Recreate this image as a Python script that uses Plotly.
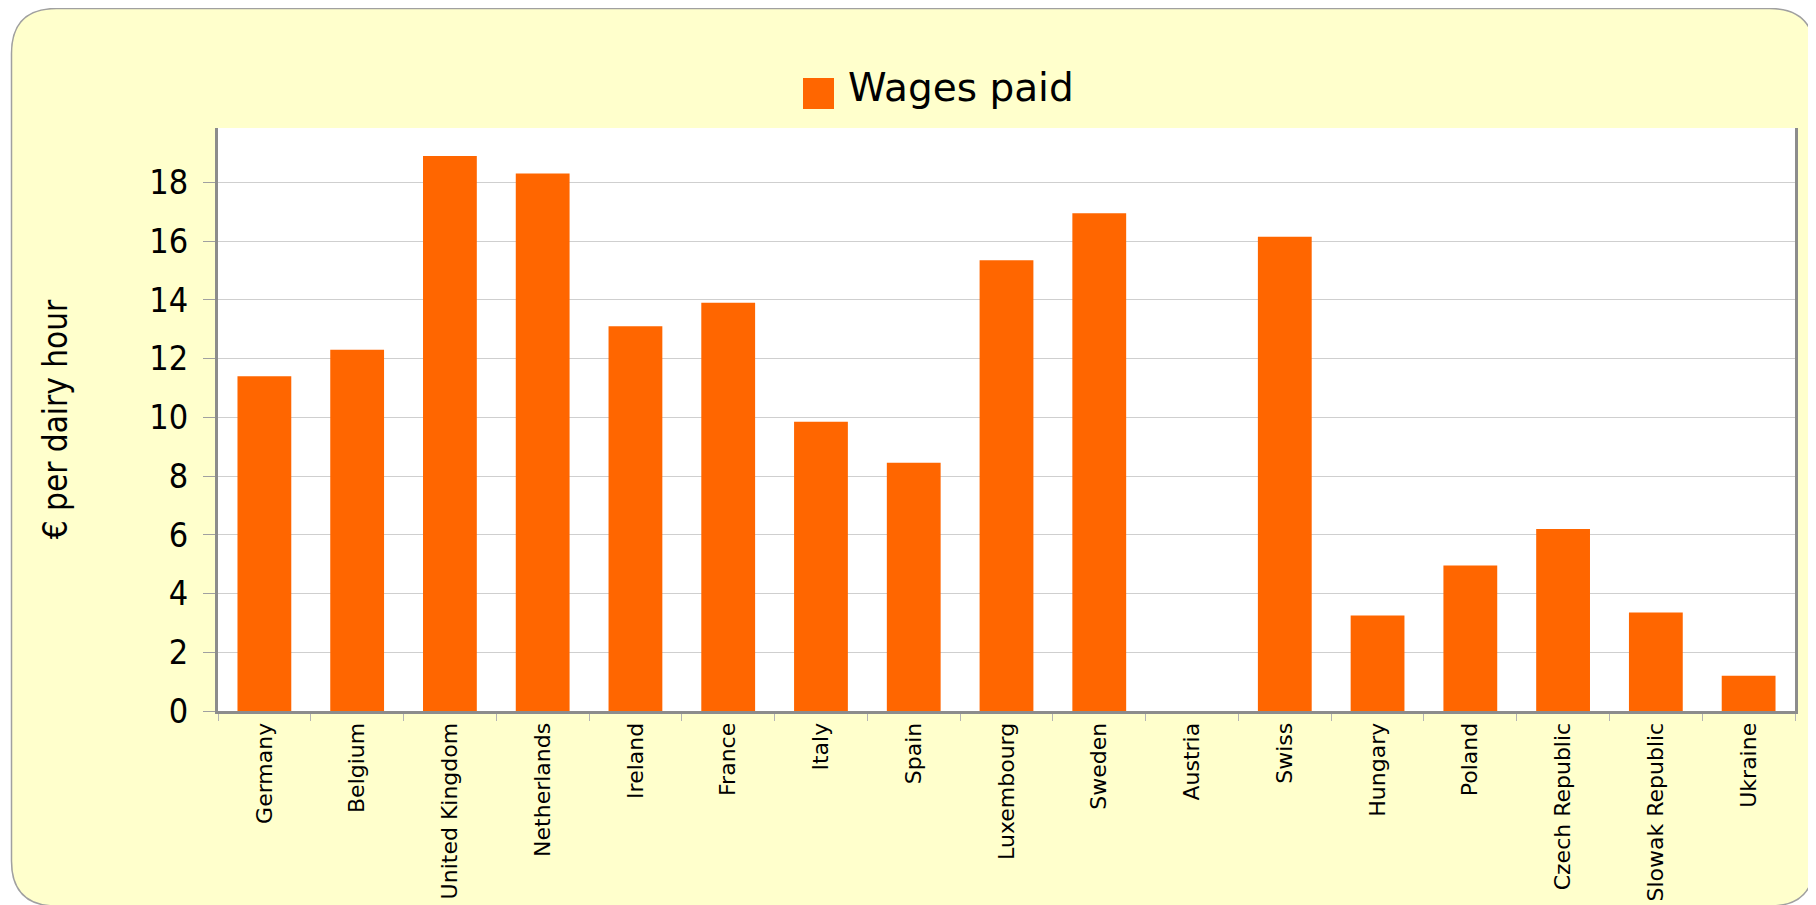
import plotly.graph_objects as go

countries = ["Germany", "Belgium", "United Kingdom", "Netherlands", "Ireland", "France",
             "Italy", "Spain", "Luxembourg", "Sweden", "Austria", "Swiss", "Hungary",
             "Poland", "Czech Republic", "Slowak Republic", "Ukraine"]
wages = [11.4, 12.3, 18.9, 18.3, 13.1, 13.9, 9.85, 8.45, 15.35, 16.95, 0, 16.15, 3.25,
         4.95, 6.2, 3.35, 1.2]
y_ticks = [0, 2, 4, 6, 8, 10, 12, 14, 16, 18]
series_name = "Wages paid"

OFF = 8                      # page body margin
SW, SH = 1816, 905           # screen size
L, R, T, B = 218, 1795, 128, 711  # plot area in screen pixels
FONT = "DejaVu Sans Condensed"
FONT_WIDE = "DejaVu Sans"

def px(x):
    return (x - L) / (R - L)

def py(y):
    return (B - y) / (B - T)

# rounded background box (screen pixels)
x0, x1, y0, y1, r = 11.5, 1814.5, 8.5, 906, 45
path = (f"M{px(x0 + r)},{py(y0)} L{px(x1 - r)},{py(y0)} Q{px(x1)},{py(y0)} {px(x1)},{py(y0 + r)} "
        f"L{px(x1)},{py(y1 - r)} Q{px(x1)},{py(y1)} {px(x1 - r)},{py(y1)} "
        f"L{px(x0 + r)},{py(y1)} Q{px(x0)},{py(y1)} {px(x0)},{py(y1 - r)} "
        f"L{px(x0)},{py(y0 + r)} Q{px(x0)},{py(y0)} {px(x0 + r)},{py(y0)} Z")

fig = go.Figure()
fig.add_trace(go.Bar(x=countries, y=wages, name=series_name, marker_color="#FF6600",
                     marker_line_width=0, showlegend=False))

shapes = [
    dict(type="path", path=path, xref="paper", yref="paper", fillcolor="#FFFFCC",
         line=dict(color="#A0A0A0", width=1.5), layer="below"),
    dict(type="rect", x0=0, x1=1, y0=0, y1=1, xref="paper", yref="paper",
         fillcolor="white", line_width=0, layer="below"),
    dict(type="rect", x0=px(803), x1=px(834), y0=py(109), y1=py(78), xref="paper", yref="paper",
         fillcolor="#FF6600", line_width=0),
]

fig.update_layout(
    width=SW - OFF, height=SH - OFF,
    margin=dict(l=L - OFF, r=SW - R, t=T - OFF, b=SH - B, autoexpand=False),
    paper_bgcolor="white", plot_bgcolor="white",
    font=dict(family=FONT, color="black"),
    bargap=0.42,
    shapes=shapes,
    annotations=[dict(text=series_name, x=px(846), y=py(88), xref="paper", yref="paper",
                      xanchor="left", yanchor="middle", showarrow=False,
                      font=dict(size=39, family=FONT_WIDE, color="black"))],
    xaxis=dict(showline=True, linecolor="#8C8C8C", linewidth=3, ticks="outside",
               tickson="boundaries", ticklen=7, tickcolor="#B4B4B4", tickangle=-90,
               tickfont=dict(size=22, family=FONT_WIDE), showgrid=False, automargin=False),
    yaxis=dict(range=[0, 19.85], tickvals=y_ticks, showline=True, mirror=True,
               linecolor="#8C8C8C", linewidth=3, ticks="outside", ticklen=12,
               tickcolor="#A0A0A0", ticklabelstandoff=8, showgrid=True,
               gridcolor="#CFCFCF", gridwidth=1, zeroline=False, automargin=False,
               tickfont=dict(size=34, family=FONT),
               title=dict(text="€ per dairy hour", standoff=72,
                          font=dict(size=33, family=FONT))),
)

fig.write_html("out.html")
